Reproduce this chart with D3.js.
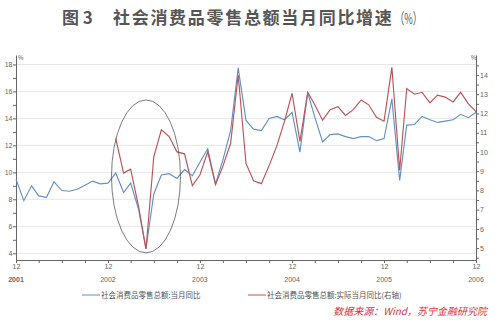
<!doctype html>
<html>
<head>
<meta charset="utf-8">
<title>社会消费品零售总额当月同比增速</title>
<script src="https://d3js.org/d3.v7.min.js"></script>
<style>
  body { margin: 0; background: #fff; }
  svg { font-family: "Noto Sans CJK SC", "Noto Sans", sans-serif; }
  .axis path, .axis line { fill: none; stroke: #666; stroke-width: 1; }
  .axis text { fill: #666; font-size: 7px; font-family: "Liberation Sans", sans-serif; }
  .grid line { stroke: #e6e6e6; }
</style>
</head>
<body>
<div id="chart"></div>
<script>
// monthly, Dec 2001 .. Dec 2006
var months = d3.timeMonth.range(new Date(2001, 11, 1), new Date(2007, 0, 1));

// nominal yoy (left axis)
var nominal = [9.5, 7.9, 9.0, 8.25, 8.15, 9.3, 8.65, 8.6, 8.75, 9.05, 9.35, 9.15,
  9.2, 9.95, 8.5, 9.2, 7.3, 4.35, 8.4, 9.8, 9.9, 9.55, 10.2, 9.75,
  10.75, 11.75, 9.15, 10.9, 13.1, 17.75, 13.85, 13.2, 13.1, 14.0, 14.15, 13.9,
  14.45, 11.5, 15.9, 14.1, 12.25, 12.8, 12.85, 12.65, 12.5, 12.65, 12.65, 12.35,
  12.5, 15.45, 9.4, 13.5, 13.55, 14.15, 13.9, 13.7, 13.8, 13.9, 14.3, 14.05,
  14.45];

// real yoy (right axis), starts Jan 2003
var real = [null, null, null, null, null, null, null, null, null, null, null, null,
  null, 10.7, 8.9, 9.1, 7.2, 4.95, 9.75, 11.15, 10.8, 10.0, 9.9, 8.25,
  8.8, 10.0, 8.3, 9.25, 10.45, 14.0, 9.4, 8.5, 8.35, 9.3, 10.3, 11.6,
  13.05, 10.55, 13.1, 12.45, 11.65, 12.2, 12.35, 11.9, 12.2, 12.7, 12.45, 11.8,
  11.6, 14.4, 9.05, 13.3, 13.0, 13.1, 12.55, 12.95, 12.85, 12.6, 13.1, 12.5,
  12.1];

var leftTicks = [4, 6, 8, 10, 12, 14, 16, 18];
var rightTicks = [5, 6, 7, 8, 9, 10, 11, 12, 13, 14];
var yearLabels = ["2001", "2002", "2003", "2004", "2005", "2006"];

var seriesNames = ["社会消费品零售总额:当月同比", "社会消费品零售总额:实际当月同比(右轴)"];
var colors = ["#6690c0", "#b85457"];

var W = 500, H = 324;
var pLeft = 16, pRight = 476, pTop = 55, pBottom = 260;

var svg = d3.select("#chart").append("svg")
  .attr("width", W).attr("height", H);

var x = d3.scaleTime()
  .domain([months[0], months[months.length - 1]])
  .range([pLeft, pRight]);
var yL = d3.scaleLinear().domain([3.5, 18.7]).range([pBottom, pTop]);
var yR = d3.scaleLinear().domain([4.38, 15.04]).range([pBottom, pTop]);

// title
svg.append("text").attr("x", 62).attr("y", 24)
  .style("font-size", "17px").style("font-weight", "bold").style("fill", "#555")
  .text("图 3");
svg.append("text").attr("x", 113).attr("y", 24)
  .style("font-size", "17px").style("font-weight", "bold").style("fill", "#555")
  .style("letter-spacing", "1.7px")
  .text("社会消费品零售总额当月同比增速");
svg.append("text").attr("x", 395).attr("y", 24)
  .style("font-size", "15px").style("fill", "#555")
  .attr("textLength", 27).attr("lengthAdjust", "spacingAndGlyphs")
  .text("（%）");

// grid
svg.append("g").attr("class", "grid")
  .selectAll("line").data(leftTicks).enter().append("line")
  .attr("x1", pLeft).attr("x2", pRight)
  .attr("y1", function(d) { return yL(d); })
  .attr("y2", function(d) { return yL(d); });

// left axis
svg.append("g").attr("class", "axis")
  .attr("transform", "translate(" + pLeft + ",0)")
  .call(d3.axisLeft(yL).tickValues(d3.range(4, 19, 1)).tickSize(3).tickSizeOuter(0)
    .tickFormat(function(d) { return d % 2 === 0 ? d : ""; }))
  .call(function(g) { g.selectAll(".tick text").attr("x", -3.5); });

// right axis
svg.append("g").attr("class", "axis")
  .attr("transform", "translate(" + pRight + ",0)")
  .call(d3.axisRight(yR).tickValues(d3.range(4.5, 15, 0.5)).tickSize(3).tickSizeOuter(0)
    .tickFormat(function(d) { return rightTicks.indexOf(d) >= 0 ? d : ""; }))
  .call(function(g) { g.selectAll(".tick text").attr("x", 4); });

// unit labels
svg.append("text").attr("x", pLeft + 2).attr("y", pTop + 5)
  .style("font-size", "6px").style("fill", "#555").text("%");
svg.append("text").attr("x", pRight - 5).attr("y", pTop + 5)
  .style("font-size", "6px").style("fill", "#555").text("%");

// bottom axis: quarterly ticks, labels on December
var qTicks = months.filter(function(d, i) { return i % 3 === 0; });
var xg = svg.append("g").attr("class", "axis")
  .attr("transform", "translate(0," + pBottom + ")")
  .call(d3.axisBottom(x).tickValues(qTicks).tickSize(3).tickSizeOuter(0)
    .tickFormat(function(d) { return d.getMonth() === 11 ? "12" : ""; }));
xg.selectAll(".tick text").attr("y", 4);
var decs = months.filter(function(d) { return d.getMonth() === 11; });
xg.selectAll(".yr").data(decs).enter().append("text")
  .attr("class", "yr")
  .attr("x", function(d) { return x(d); })
  .attr("y", 22)
  .attr("text-anchor", "middle")
  .style("font-weight", function(d, i) { return i === 0 ? "bold" : "normal"; })
  .text(function(d, i) { return yearLabels[i]; });

// lines
var lineL = d3.line()
  .defined(function(d) { return d.v != null; })
  .x(function(d) { return x(d.m); })
  .y(function(d) { return yL(d.v); });
var lineR = d3.line()
  .defined(function(d) { return d.v != null; })
  .x(function(d) { return x(d.m); })
  .y(function(d) { return yR(d.v); });

svg.append("path")
  .datum(months.map(function(m, i) { return { m: m, v: nominal[i] }; }))
  .attr("fill", "none").attr("stroke", colors[0]).attr("stroke-width", 1.15)
  .attr("d", lineL);
svg.append("path")
  .datum(months.map(function(m, i) { return { m: m, v: real[i] }; }))
  .attr("fill", "none").attr("stroke", colors[1]).attr("stroke-width", 1.15)
  .attr("d", lineR);

// ellipse around the May 2003 dip (data units: month, left-axis value)
var ringCenter = new Date(2003, 4, 1), ringValue = 9.7, ringMonths = 4.5, ringSpan = 5.67;
var monthW = (x(months[months.length - 1]) - x(months[0])) / (months.length - 1);
svg.append("ellipse")
  .attr("cx", x(ringCenter)).attr("cy", yL(ringValue))
  .attr("rx", ringMonths * monthW)
  .attr("ry", yL(0) - yL(ringSpan))
  .attr("fill", "none").attr("stroke", "#444").attr("stroke-width", 0.7);

// legend
var legX = [82, 248];
var leg = svg.selectAll(".leg").data(seriesNames).enter().append("g")
  .attr("transform", function(d, i) { return "translate(" + legX[i] + ",295)"; });
leg.append("line").attr("x1", 0).attr("x2", 18)
  .attr("stroke", function(d, i) { return colors[i]; }).attr("stroke-width", 1);
leg.append("text").attr("x", 19).attr("y", 2.5)
  .style("font-size", "7.5px").style("fill", "#555")
  .text(function(d) { return d; });

// source
svg.append("text").attr("x", 487).attr("y", 315)
  .attr("text-anchor", "end")
  .style("font-size", "10px").style("font-style", "italic").style("fill", "#d9343a")
  .text("数据来源：Wind，苏宁金融研究院");
</script>
</body>
</html>
